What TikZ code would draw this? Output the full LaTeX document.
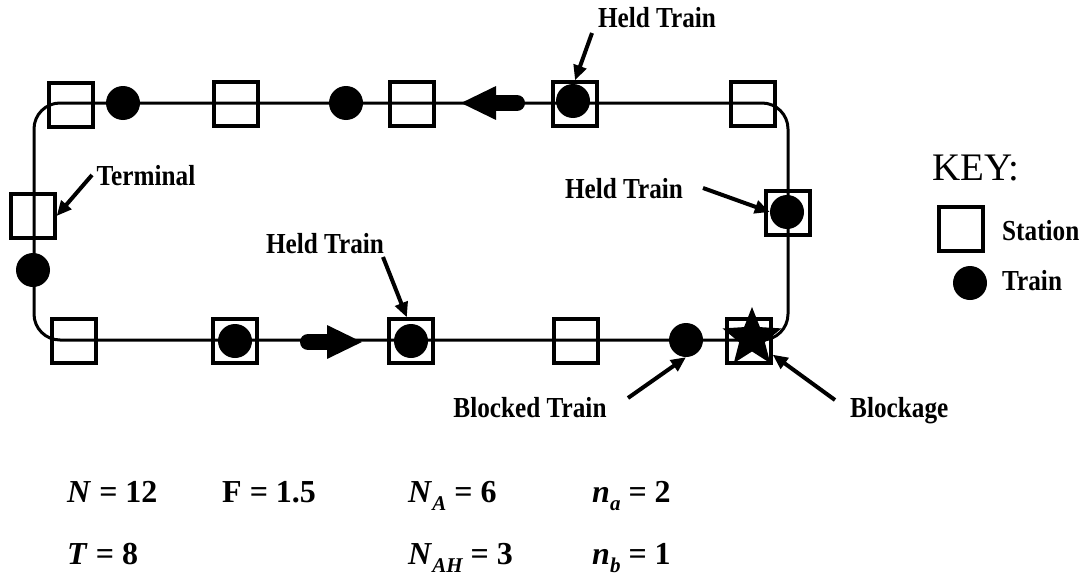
\documentclass[tikz,border=0pt]{standalone}
\usepackage{fontspec}
\setmainfont{Liberation Serif}
\newfontfamily\lblfamily{Liberation Serif}[FakeStretch=0.87]
\usetikzlibrary{arrows.meta,shapes.geometric}
\newcommand\fsub[1]{\raisebox{-8pt}{\fontsize{21}{21}\selectfont\itshape #1}}
\begin{document}
\begin{tikzpicture}[x=1pt,y=-1pt,
  station/.style={draw, line width=3.3pt, minimum width=44pt, minimum height=44pt, inner sep=0pt},
  train/.style={circle, fill=black, minimum size=34pt, inner sep=0pt},
  track/.style={line width=3pt},
  lbl/.style={font=\lblfamily\bfseries\fontsize{29}{29}\selectfont, inner sep=0pt},
  lblarrow/.style={line width=4pt, -{Triangle[length=15pt,width=13pt]}},
  dirarrow/.style={line width=16pt, line cap=round, -{Triangle[length=36pt,width=31pt]}},
  fml/.style={font=\fontsize{32}{32}\selectfont\bfseries, inner sep=0pt, anchor=base west}]
\useasboundingbox (0,0) rectangle (1091,578);
% track
\draw[track, rounded corners=26pt] (34,103) rectangle (788,340);
% direction markers
\draw[dirarrow] (517,103) -- (460,103);
\draw[dirarrow] (308,342) -- (363,342);
% top stations
\node[station] (st1) at (71,105) {};
\node[station] (st2) at (236,104) {};
\node[station] (st3) at (412,104) {};
\node[station] (st4) at (575,104) {};
\node[station] (st5) at (753,104) {};
% left
\node[station] (term) at (33,216) {};
% right
\node[station] (sr) at (788,213) {};
% bottom stations
\node[station] (sb1) at (74,341) {};
\node[station] (sb2) at (235,341) {};
\node[station] (sb3) at (411,341) {};
\node[station] (sb4) at (576,341) {};
\node[station] (sb5) at (749,341) {};
% trains
\node[train] (tt1) at (123,103) {};
\node[train] (tt2) at (346,103) {};
\node[train] (tt3) at (573,101) {};
\node[train] (tl) at (33,270) {};
\node[train] (trR) at (787,212) {};
\node[train] (tb2) at (235,341) {};
\node[train] (tb3) at (411,341) {};
\node[train] (tbk) at (686,340) {};
% blockage star
\node[star, star points=5, star point ratio=2.3, fill=black, minimum size=62pt, inner sep=0pt] (blk) at (752,338) {};
% labels
\node[lbl, anchor=base] (lterm) at (146,185) {Terminal};
\node[lbl, anchor=base] (lhtop) at (657,28) {Held Train};
\node[lbl, anchor=base] (lhright) at (624,198) {Held Train};
\node[lbl, anchor=base] (lhbot) at (325,253) {Held Train};
\node[lbl, anchor=base] (lblkd) at (530,417) {Blocked Train};
\node[lbl, anchor=base west] (lblock) at (850,417) {Blockage};
% label arrows
\coordinate (aterm) at (92,175);
\coordinate (ahtop) at (592,33);
\coordinate (ahright) at (703,188);
\coordinate (ahbot) at (383,257);
\coordinate (ablkd) at (628,398);
\coordinate (ablock) at (835,400);
\draw[lblarrow] (aterm) -- (term.east);
\draw[lblarrow] (ahtop) -- (st4.north);
\draw[lblarrow] (ahright) -- (trR.west);
\draw[lblarrow] (ahbot) -- (sb3.100);
\draw[lblarrow] (ablkd) -- (tbk.south);
\draw[lblarrow] (ablock) -- (sb5.-30);
% key
\node[font=\fontsize{39}{39}\selectfont, inner sep=0pt, anchor=base] (key) at (976,180) {KEY:};
\node[station] (kst) at (961,229) {};
\node[train] (ktr) at (970,283) {};
\node[lbl, anchor=base west] (kstl) at (1002,240) {Station};
\node[lbl, anchor=base west] (ktrl) at (1002,290) {Train};
% parameters
\node[fml] (fN) at (67,502) {\textit{N} = 12};
\node[fml] (fF) at (222,502) {F = 1.5};
\node[fml] (fNA) at (408,502) {\textit{N}\fsub{A} = 6};
\node[fml] (fna) at (592,502) {\textit{n}\fsub{a} = 2};
\node[fml] (fT) at (67,564) {\textit{T} = 8};
\node[fml] (fNAH) at (408,564) {\textit{N}\fsub{AH} = 3};
\node[fml] (fnb) at (592,564) {\textit{n}\fsub{b} = 1};
\end{tikzpicture}
\end{document}
